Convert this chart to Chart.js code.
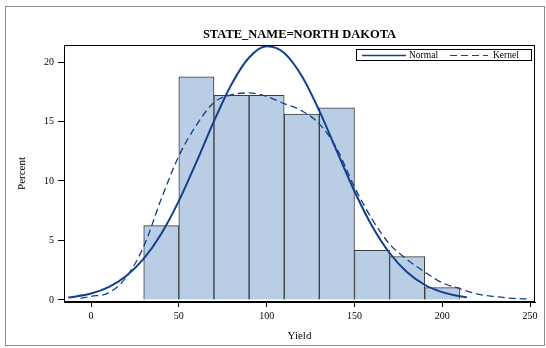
<!DOCTYPE html>
<html>
<head>
<meta charset="utf-8">
<script src="https://cdn.jsdelivr.net/npm/chart.js@4"></script>
<style>
  html, body { margin: 0; padding: 0; background: #fff; }
  #wrap { position: relative; width: 546px; height: 348px; }
</style>
</head>
<body>
<div id="wrap"><canvas id="yieldChart" width="546" height="348"></canvas></div>
<script>
// --- Data ---
const binMids = [40, 60, 80, 100, 120, 140, 160, 180, 200];
const binPercent = [6.25, 18.75, 17.19, 17.19, 15.63, 16.15, 4.17, 3.65, 1.04];

// fitted normal curve (solid)
const normalX = [-13, 0, 10, 20, 30, 40, 50, 60, 70, 80, 90, 100, 110, 120, 130, 140, 150, 160, 170, 180, 190, 200, 210, 214];
const normalY = [0.20, 0.54, 1.08, 2.01, 3.47, 5.57, 8.33, 11.59, 15.03, 18.14, 20.38, 21.32, 20.76, 18.82, 15.89, 12.49, 9.14, 6.22, 3.95, 2.33, 1.28, 0.66, 0.31, 0.23];

// kernel density curve (dashed)
const kernelX = [-6, 0, 10, 20, 30, 40, 50, 60, 70, 80, 90, 100, 110, 120, 130, 140, 150, 160, 170, 180, 190, 200, 210, 220, 230, 240, 249];
const kernelY = [0.14, 0.30, 0.60, 1.90, 4.50, 8.50, 12.10, 14.70, 16.60, 17.25, 17.40, 17.10, 16.50, 15.90, 14.80, 12.70, 9.50, 6.80, 4.70, 3.40, 2.35, 1.45, 0.95, 0.50, 0.28, 0.14, 0.08];

const xTicks = [0, 50, 100, 150, 200, 250];
const yTicks = [0, 5, 10, 15, 20];

const navy = '#12408c';
const serif = '"Liberation Serif", "DejaVu Serif", serif';

// --- frame, panel title and legend drawn on top ---
const decorations = {
    id: 'decorations',
    afterDraw(chart) {
        const c = chart.ctx;
        const a = chart.chartArea;
        c.save();
        c.strokeStyle = '#8c8c8c';
        c.lineWidth = 1;
        c.strokeRect(5.5, 6.5, 539, 339);

        c.strokeStyle = '#000';
        c.strokeRect(a.left + 0.5, a.top + 0.5, a.right - a.left - 1, a.bottom - a.top - 1);

        c.fillStyle = '#000';
        c.font = 'bold 12.5px ' + serif;
        c.textAlign = 'center';
        c.textBaseline = 'middle';
        c.fillText('STATE_NAME=NORTH DAKOTA', (a.left + a.right) / 2, 34.5);

        // legend
        c.strokeRect(356.5, 49.5, 175, 11);
        c.font = '9.5px ' + serif;
        c.textAlign = 'left';
        c.strokeStyle = navy;
        c.lineWidth = 1.5;
        c.beginPath(); c.moveTo(362, 55.5); c.lineTo(406, 55.5); c.stroke();
        c.fillText('Normal', 409, 55.5);
        c.setLineDash([7, 4]);
        c.lineWidth = 1.2;
        c.beginPath(); c.moveTo(450, 55.5); c.lineTo(488, 55.5); c.stroke();
        c.setLineDash([]);
        c.fillText('Kernel', 493, 55.5);
        c.restore();
    }
};

const ctx = document.getElementById('yieldChart').getContext('2d');
Chart.defaults.font.family = serif;
Chart.defaults.color = '#000';

new Chart(ctx, {
    type: 'bar',
    data: {
        datasets: [
            {
                type: 'line',
                label: 'Normal',
                data: normalX.map((x, i) => ({ x: x, y: normalY[i] })),
                borderColor: navy,
                borderWidth: 2,
                pointRadius: 0,
                cubicInterpolationMode: 'monotone',
                fill: false,
                order: 0
            },
            {
                type: 'line',
                label: 'Kernel',
                data: kernelX.map((x, i) => ({ x: x, y: kernelY[i] })),
                borderColor: navy,
                borderWidth: 1.3,
                borderDash: [7, 4],
                pointRadius: 0,
                cubicInterpolationMode: 'monotone',
                fill: false,
                order: 0
            },
            {
                label: 'Percent',
                data: binMids.map((x, i) => ({ x: x, y: binPercent[i] })),
                backgroundColor: '#b9cde5',
                borderColor: '#3c3c3c',
                borderWidth: 1,
                barPercentage: 1,
                categoryPercentage: 1,
                order: 1
            }
        ]
    },
    options: {
        responsive: false,
        animation: false,
        layout: { padding: { left: 0, right: 11, top: 45, bottom: 0 } },
        plugins: {
            legend: { display: false },
            tooltip: { enabled: false }
        },
        scales: {
            x: {
                type: 'linear',
                min: -15.4,
                max: 252.8,
                offset: false,
                afterFit: s => { s.height = 46; },
                afterBuildTicks: s => { s.ticks = xTicks.map(v => ({ value: v })); },
                grid: { drawOnChartArea: false, drawTicks: true, tickLength: 5, color: '#000', offset: false },
                border: { display: true, color: '#000' },
                ticks: { font: { size: 10 }, padding: 3, maxRotation: 0 },
                title: { display: true, text: 'Yield', font: { size: 11 }, padding: { top: 0, bottom: 5 } }
            },
            y: {
                type: 'linear',
                min: -0.17,
                max: 21.43,
                afterFit: s => { s.width = 64; },
                afterBuildTicks: s => { s.ticks = yTicks.map(v => ({ value: v })); },
                grid: { drawOnChartArea: false, drawTicks: true, tickLength: 6, color: '#000' },
                border: { display: true, color: '#000' },
                ticks: { font: { size: 10 }, padding: 4 },
                title: { display: true, text: 'Percent', font: { size: 11 }, padding: { top: 16, bottom: 0 } }
            }
        }
    },
    plugins: [decorations]
});
</script>
</body>
</html>
